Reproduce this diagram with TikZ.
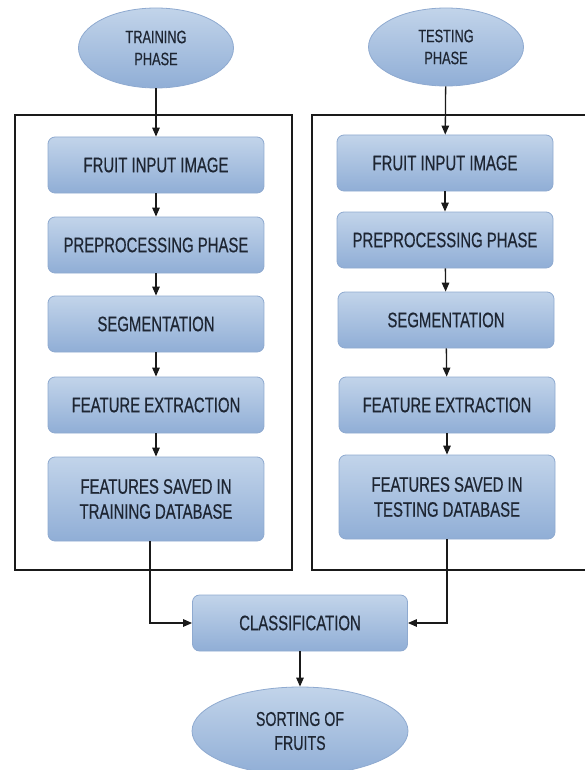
\documentclass[tikz,border=0pt]{standalone}
\usepackage{fontspec}
\setmainfont{Liberation Sans}[FakeStretch=0.71, FakeBold=0.5]
\usetikzlibrary{arrows.meta,shapes.geometric}

\definecolor{boxtop}{HTML}{C2D4EA}
\definecolor{boxbot}{HTML}{90AED6}
\definecolor{boxline}{HTML}{8FAAD0}
\definecolor{ink}{HTML}{1E2633}
\definecolor{frame}{HTML}{1A1A1A}

\begin{document}
\begin{tikzpicture}[x=1pt,y=-1pt,
  stage/.style={rounded corners=7pt, draw=boxline, line width=0.8pt,
    top color=boxtop, bottom color=boxbot, align=center, text=ink,
    font=\fontsize{21}{25}\selectfont, inner sep=0pt,
    minimum width=216pt, minimum height=56pt},
  tall/.style={minimum height=84pt},
  oval/.style={ellipse, draw=boxline, line width=0.8pt,
    top color=boxtop, bottom color=boxbot, align=center, text=ink,
    font=\fontsize{18}{22}\selectfont, inner sep=0pt},
  flow/.style={draw=frame, line width=1.3pt,
    -{Triangle[length=9pt,width=7.5pt]}},
  panel/.style={draw=frame, line width=1.6pt}
]
\useasboundingbox (0,0) rectangle (584,770);

% phase panels
\draw[panel] (15,115) rectangle (292,570);
\draw[panel] (590,115) -- (312,115) -- (312,570) -- (590,570);

% start ovals
\node[oval, minimum width=155pt, minimum height=80pt] (tr) at (156,48) {TRAINING\\PHASE};
\node[oval, minimum width=155pt, minimum height=78pt] (te) at (446,47) {TESTING\\PHASE};

% training column
\node[stage] (l1) at (156,165) {FRUIT INPUT IMAGE};
\node[stage] (l2) at (156,245) {PREPROCESSING PHASE};
\node[stage] (l3) at (156,324) {SEGMENTATION};
\node[stage] (l4) at (156,405) {FEATURE EXTRACTION};
\node[stage, tall] (l5) at (156,499) {FEATURES SAVED IN\\TRAINING DATABASE};

% testing column
\node[stage] (r1) at (445,163) {FRUIT INPUT IMAGE};
\node[stage] (r2) at (445,240) {PREPROCESSING PHASE};
\node[stage] (r3) at (446,320) {SEGMENTATION};
\node[stage] (r4) at (447,405) {FEATURE EXTRACTION};
\node[stage, tall] (r5) at (447,497) {FEATURES SAVED IN\\TESTING DATABASE};

% result
\node[stage, minimum width=215pt] (cl) at (300,623) {CLASSIFICATION};
\node[oval, minimum width=216pt, minimum height=88pt,
      font=\fontsize{20}{24}\selectfont] (so) at (300,731) {SORTING OF\\FRUITS};

% connectors
\draw[flow] (tr) -- (l1);
\draw[flow] (l1) -- (l2);
\draw[flow] (l2) -- (l3);
\draw[flow] (l3) -- (l4);
\draw[flow] (l4) -- (l5);
\draw[flow] (te) -- (r1);
\draw[flow] (r1) -- (r2);
\draw[flow] (r2) -- (r3);
\draw[flow] (r3) -- (r4);
\draw[flow] (r4) -- (r5);
\draw[flow] (l5.south -| 150,0) |- (cl.west);
\draw[flow] (r5.south) |- (cl.east);
\draw[flow] (cl) -- (so);
\end{tikzpicture}
\end{document}
